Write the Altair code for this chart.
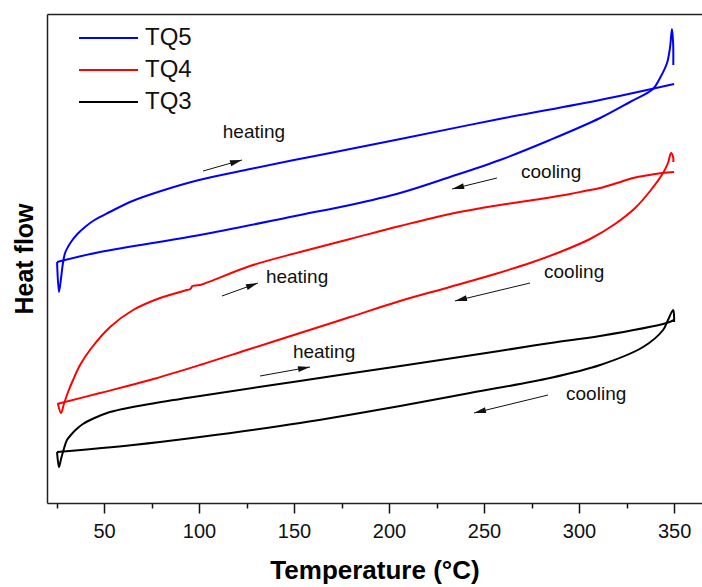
import altair as alt
import pandas as pd
import numpy as np

FONT = "Liberation Sans"

# ---------------- data (Temperature in °C, heat flow in arbitrary units) -------------
samples = ["TQ5", "TQ4", "TQ3"]
colors = ["#0000ff", "#ff0000", "#000000"]

tq5_heat_T = [25.3, 26.3, 27.4, 28.4, 29.5, 31, 33, 36, 40, 45, 53, 65, 80, 100, 127, 150, 169, 206, 258, 311, 350]
tq5_heat_H = [241, 211, 225, 240, 250, 256, 262, 269, 276, 283, 291, 302, 312, 323, 334, 343, 350, 364, 384, 403, 419]
tq5_cool_T = [25.3, 47.9, 100.5, 153.2, 179.5, 205.8, 232.1, 258.4, 284.7, 311.1, 326.8, 338.9, 342.6, 346.3, 347.9, 348.9, 349.5, 349.6]
tq5_cool_H = [241, 251, 268, 288, 298, 310, 326, 343, 363, 385, 401, 414, 425, 440, 456, 474, 460, 438]

tq4_heat_T = [25.8, 27.4, 28.9, 31.1, 33.7, 37.4, 42.6, 53.2, 65.3, 79.5, 93.7, 95.5, 96.5, 100.5, 126.8, 153.2, 179.5, 205.8, 232.1, 258.4, 279.5, 295.3, 303, 311, 320, 328.4, 337, 344, 350]
tq4_heat_H = [99, 90, 99, 111, 123, 138, 153, 176, 193, 205, 213, 214, 217, 218, 237, 251, 264, 277, 289, 298, 304, 309, 312, 315, 320, 325, 328, 330, 331]
tq4_cool_T = [25.3, 47.9, 74.2, 100.5, 126.8, 153.2, 179.5, 205.8, 232.1, 255.8, 274.2, 290, 305.8, 318.9, 329.5, 337.4, 344.2, 346.8, 348.4, 349.5, 349.6]
tq4_cool_H = [99, 110, 123, 138, 154, 170, 186, 202, 216, 229, 240, 251, 264, 279, 295, 312, 330, 340, 350, 346, 341]

tq3_heat_T = [25.3, 26.3, 27.4, 28.4, 30.5, 32.1, 35, 38.9, 45, 51.6, 60, 74, 100.5, 153, 206, 258, 285, 311, 346, 350]
tq3_heat_H = [51, 36, 44, 51, 63, 67, 73, 79, 85, 90, 94, 99, 107, 122, 137, 152, 160, 167, 180, 183]
tq3_cool_T = [25.3, 65.3, 100.5, 153.2, 205.8, 242.6, 284.7, 311.1, 333.7, 344.2, 346.8, 349.5, 350, 350]
tq3_cool_H = [51, 58, 66, 80, 97, 110, 125, 138, 156, 173, 183, 193, 187, 181]

# annotation labels
note_text = ["heating", "cooling", "heating", "cooling", "heating", "cooling"]
note_T = [128.9, 285.3, 151.6, 297.4, 165.8, 309.0]
note_H = [371, 331, 226, 231, 151, 109]

# arrows (start -> end, head at end)
arrow_T1 = [102.1, 256.8, 112.1, 274.2, 132.1, 283.7]
arrow_H1 = [332, 325, 207, 220, 127, 108]
arrow_T2 = [122.6, 233.2, 131.0, 234.7, 158.4, 244.7]
arrow_H2 = [343, 314, 220, 202, 136, 90]

# ---------------- layout ----------------
W, H = 655, 489
x_dom = [20, 364.7]
y_dom = [0, 489]

rows = []
series = [
    ("TQ5", "heat", tq5_heat_T, tq5_heat_H), ("TQ5", "cool", tq5_cool_T, tq5_cool_H),
    ("TQ4", "heat", tq4_heat_T, tq4_heat_H), ("TQ4", "cool", tq4_cool_T, tq4_cool_H),
    ("TQ3", "heat", tq3_heat_T, tq3_heat_H), ("TQ3", "cool", tq3_cool_T, tq3_cool_H),
]
for s, b, Ts, Hs in series:
    for i, (t, h) in enumerate(zip(Ts, Hs)):
        rows.append(dict(sample=s, branch=s + b, idx=i, T=t, H=h))
df = pd.DataFrame(rows)

notes = pd.DataFrame(dict(text=note_text, T=note_T, H=note_H))

px_per_T = W / (x_dom[1] - x_dom[0])
px_per_H = H / (y_dom[1] - y_dom[0])
ang = []
for t1, h1, t2, h2 in zip(arrow_T1, arrow_H1, arrow_T2, arrow_H2):
    dx = (t2 - t1) * px_per_T
    dy = -(h2 - h1) * px_per_H
    ang.append(float(np.degrees(np.arctan2(dy, dx)) % 360))
arrows = pd.DataFrame(dict(T1=arrow_T1, H1=arrow_H1, T2=arrow_T2, H2=arrow_H2, ang=ang))

xscale = alt.Scale(domain=x_dom, nice=False, zero=False)
yscale = alt.Scale(domain=y_dom, nice=False, zero=False)

bottom_axis = alt.Axis(
    orient="bottom",
    values=list(range(25, 376, 25)),
    labelExpr="datum.value % 50 === 0 ? datum.label : ''",
    tickSize={"condition": {"test": "datum.value % 50 === 0", "value": 10}, "value": 5},
    tickColor="#111", tickWidth=1.5,
    labelFontSize=20, labelFont=FONT, labelColor="#111", labelPadding=8,
    title="Temperature (°C)", titleFontSize=26, titleFont=FONT, titleFontWeight="bold",
    titleColor="#000", titlePadding=16,
    grid=False, domainColor="#222", domainWidth=1.5,
)
left_axis = alt.Axis(
    labels=False, ticks=False, grid=False, title="Heat flow",
    titleFontSize=25, titleFont=FONT, titleFontWeight="bold", titleColor="#000",
    titlePadding=10, domainColor="#222", domainWidth=1.5,
)
top_axis = alt.Axis(orient="top", labels=False, ticks=False, grid=False, title=None,
                    domainColor="#222", domainWidth=1.5)

lines = alt.Chart(df).mark_line(strokeWidth=2, interpolate="catmull-rom").encode(
    x=alt.X("T:Q", scale=xscale, axis=bottom_axis),
    y=alt.Y("H:Q", scale=yscale, axis=left_axis),
    color=alt.Color(
        "sample:N",
        scale=alt.Scale(domain=samples, range=colors),
        sort=samples,
        legend=alt.Legend(
            orient="none", legendX=31, legendY=12, title=None,
            symbolType="stroke", symbolSize=3481, symbolStrokeWidth=2,
            labelFontSize=24, labelFont=FONT, labelColor="#111",
            clipHeight=24, rowPadding=8, labelOffset=6, padding=0,
        ),
    ),
    detail="branch:N",
    order="idx:Q",
)

text = alt.Chart(notes).mark_text(fontSize=19, font=FONT, color="#111").encode(
    x=alt.X("T:Q", scale=xscale, axis=top_axis),
    y=alt.Y("H:Q", scale=yscale, axis=left_axis),
    text="text:N",
)

shafts = alt.Chart(arrows).mark_rule(strokeWidth=1, color="#111").encode(
    x=alt.X("T1:Q", axis=None), y=alt.Y("H1:Q", axis=left_axis), x2="T2:Q", y2="H2:Q",
)
heads = alt.Chart(arrows).mark_point(
    shape="M0,0L-2,-0.5L-2,0.5Z", size=144, filled=True, color="#111", opacity=1, strokeWidth=0
).encode(
    x=alt.X("T2:Q", axis=None), y=alt.Y("H2:Q", axis=left_axis), angle=alt.Angle("ang:Q", scale=None),
)

chart = alt.layer(lines, text, shafts, heads).properties(
    width=W, height=H,
    autosize=alt.AutoSizeParams(type="none"),
    padding={"left": 47, "top": 14, "right": 0, "bottom": 84},
    background="white",
).configure_view(stroke=None)

chart.save("out.html", embed_options={"renderer": "svg", "actions": False})
